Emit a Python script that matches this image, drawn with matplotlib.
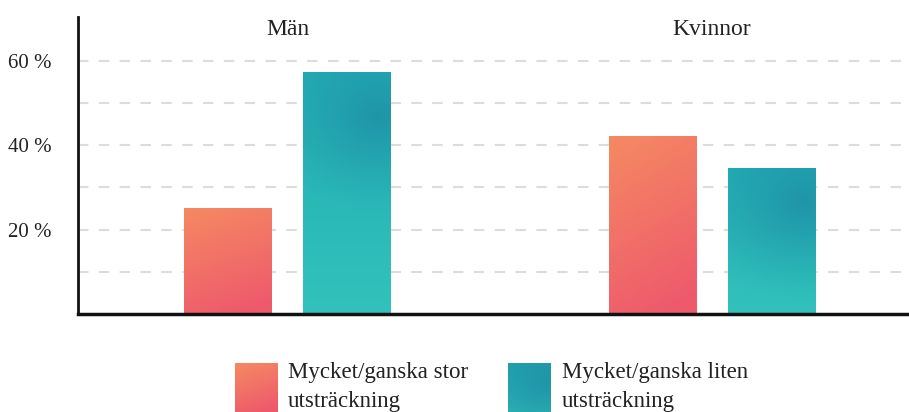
import numpy as np
import matplotlib
matplotlib.use("Agg")
import matplotlib.pyplot as plt
from matplotlib.colors import to_rgb

groups = ["Män", "Kvinnor"]
series = ["Mycket/ganska stor\nutsträckning", "Mycket/ganska liten\nutsträckning"]
values_stor = [25.1, 42.1]
values_liten = [57.3, 34.6]
yticks = [20, 40, 60]
ytick_labels = ["20 %", "40 %", "60 %"]

plt.rcParams['font.family'] = ['Liberation Serif', 'DejaVu Serif']

PX_PER_UNIT = 4.23  # pixels per percent


def coral_img(h_px, w_px=88):
    yy, xx = np.mgrid[0:1:200j, 0:1:100j]
    t = np.clip(0.85 * yy + 0.25 * xx, 0, 1)
    top = np.array(to_rgb("#f58a62"))
    bot = np.array(to_rgb("#ee5a6c"))
    return top[None, None, :] * (1 - t[..., None]) + bot[None, None, :] * t[..., None]


def teal_img(h_px, w_px=88, cy=42):
    n, m = int(h_px), int(w_px)
    yy, xx = np.mgrid[0:n, 0:m].astype(float)
    top = np.array(to_rgb("#22adb4"))
    bot = np.array(to_rgb("#32c2bb"))
    dark = np.array(to_rgb("#1e90a6"))
    t = (yy / max(n - 1, 1))[..., None]
    img = top * (1 - t) + bot * t
    d = np.sqrt(((xx - 0.85 * m) / 115) ** 2 + ((yy - cy) / 100) ** 2)
    w = np.clip(1 - d, 0, 1) ** 1.3 * 0.85
    return img * (1 - w[..., None]) + dark * w[..., None]


fig = plt.figure(figsize=(9.09, 4.12), dpi=100)
ax = fig.add_axes([78 / 909, 1 - 314.3 / 412, 831 / 909, (314.3 - 17) / 412])

x = np.arange(len(groups))
width = 0.207
off = 0.14

for i in range(len(groups)):
    for val, dx, kind in [(values_stor[i], -off, "c"), (values_liten[i], off, "t")]:
        bars = ax.bar(x[i] + dx, val, width, color="none", zorder=2)
        rect = bars[0]
        left, right = x[i] + dx - width / 2, x[i] + dx + width / 2
        h_px = val * PX_PER_UNIT
        img = coral_img(h_px) if kind == "c" else teal_img(h_px, cy=min(45, 0.2 * h_px + 5))
        im = ax.imshow(img, extent=[left, right, 0, val], aspect="auto", zorder=2,
                       interpolation="bilinear")
        im.set_clip_path(rect)

ax.set_xlim(-0.4935, 1.464)
ax.set_ylim(0, 70.3)
ax.set_yticks(yticks)
ax.set_yticklabels(ytick_labels, fontsize=15, color="#222222")
ax.set_xticks([])
for yv in [10, 20, 30, 40, 50, 60]:
    ax.axhline(yv, color="#dcdcdc", lw=1.5, ls=(0, (5, 5)), zorder=1)
ax.tick_params(axis="y", length=0, pad=19)
for s in ["top", "right"]:
    ax.spines[s].set_visible(False)
ax.spines["left"].set_linewidth(2)
ax.spines["bottom"].set_linewidth(2.5)
ax.spines["left"].set_color("#111111")
ax.spines["bottom"].set_color("#111111")

for i, g in enumerate(groups):
    ax.text(x[i], 67.3, g, ha="center", va="center", fontsize=17, color="#222222")

# legend
for (px, tx, lab, kind) in [(235, 288, series[0], "c"), (508, 562, series[1], "t")]:
    lax = fig.add_axes([px / 909, 1 - 412 / 412, 42 / 909, 49 / 412])
    lax.imshow(coral_img(49, 42) if kind == "c" else teal_img(49, 42, cy=18), aspect="auto",
               extent=[0, 1, 0, 1], interpolation="bilinear")
    lax.axis("off")
    fig.text(tx / 909, 1 - 362 / 412, lab, ha="left", va="top", fontsize=16.5,
             color="#222222", linespacing=1.5)

fig.savefig("out.png", dpi=100)
